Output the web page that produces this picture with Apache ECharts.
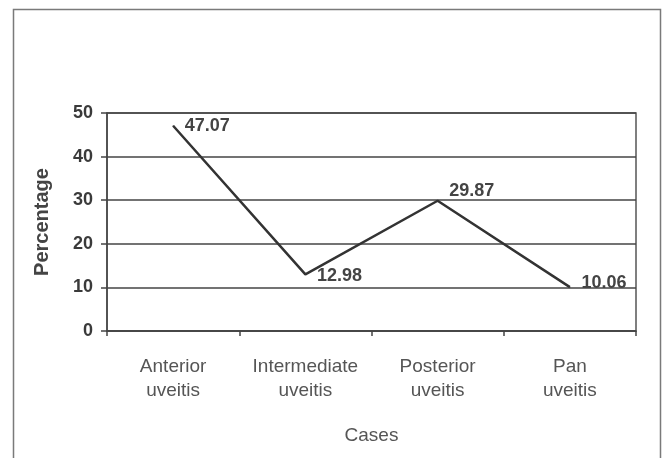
<!DOCTYPE html>
<html>
<head>
<meta charset="utf-8">
<script src="https://cdn.jsdelivr.net/npm/echarts@6/dist/echarts.min.js"></script>
<style>
html,body{margin:0;padding:0;background:#fff;}
#chart{width:662px;height:458px;}
</style>
</head>
<body>
<div id="chart"></div>
<script>
const categories = ["Anterior\nuveitis", "Intermediate\nuveitis", "Posterior\nuveitis", "Pan\nuveitis"];
const percentages = [47.07, 12.98, 29.87, 10.06];
const yTicks = [0, 10, 20, 30, 40, 50];

const labelOffsets = [[0, 0], [0, 2], [0, -10], [0, -4]];

const chart = echarts.init(document.getElementById('chart'), null, {renderer: 'canvas'});
const font = '"Liberation Sans", Arial, sans-serif';

chart.setOption({
  backgroundColor: '#ffffff',
  animation: false,
  graphic: [{
    type: 'rect',
    shape: {x: 13.5, y: 9.5, width: 647, height: 470},
    style: {fill: 'none', stroke: '#7a7a7a', lineWidth: 1.5},
    silent: true
  }],
  grid: {
    left: 107, right: 26, top: 113, bottom: 127,
    show: true, borderColor: '#555', borderWidth: 1.5, backgroundColor: 'transparent'
  },
  xAxis: {
    type: 'category',
    data: categories,
    boundaryGap: true,
    name: 'Cases',
    nameLocation: 'middle',
    nameGap: 95,
    nameTextStyle: {fontFamily: font, fontSize: 19, color: '#555'},
    axisLine: {show: true, lineStyle: {color: '#444', width: 1.5}},
    axisTick: {show: true, alignWithLabel: false, length: 5, lineStyle: {color: '#444', width: 1.5}},
    axisLabel: {fontFamily: font, fontSize: 19, color: '#555', lineHeight: 24, margin: 24, interval: 0}
  },
  yAxis: {
    type: 'value',
    min: yTicks[0],
    max: yTicks[yTicks.length - 1],
    interval: yTicks[1] - yTicks[0],
    name: 'Percentage',
    nameLocation: 'middle',
    nameGap: 55,
    nameTextStyle: {fontFamily: font, fontSize: 20, fontWeight: 'bold', color: '#444'},
    axisLine: {show: true, lineStyle: {color: '#444', width: 1.5}},
    axisTick: {show: true, inside: false, length: 6, lineStyle: {color: '#444', width: 1.5}},
    axisLabel: {fontFamily: font, fontSize: 18, fontWeight: 'bold', color: '#3a3a3a', margin: 14},
    splitLine: {show: true, lineStyle: {color: '#444', width: 1.5}}
  },
  series: [{
    type: 'line',
    data: percentages.map((v, i) => ({
      value: v,
      label: {offset: labelOffsets[i]}
    })),
    symbol: 'circle',
    symbolSize: 1,
    showSymbol: true,
    itemStyle: {color: '#333'},
    lineStyle: {color: '#333', width: 2.5},
    label: {
      show: true,
      position: 'right',
      distance: 11,
      fontFamily: font,
      fontSize: 18,
      fontWeight: 'bold',
      color: '#444',
      formatter: p => p.value.toFixed(2)
    }
  }]
});
</script>
</body>
</html>
